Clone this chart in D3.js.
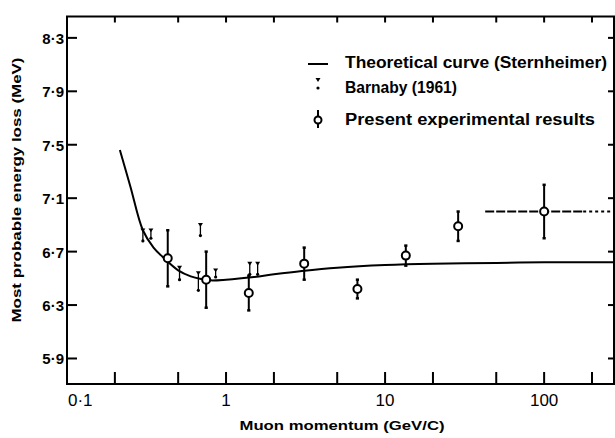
<!DOCTYPE html>
<html>
<head>
<meta charset="utf-8">
<script src="https://cdn.jsdelivr.net/npm/d3@7"></script>
<style>
  body { margin: 0; background: #fff; }
  svg { display: block; }
  text { fill: #000; font-family: "Liberation Sans", Arial, sans-serif; }
</style>
</head>
<body>
<svg id="chart" width="615" height="438"></svg>
<script>
// Axis ticks
const xTicks = [0.2, 0.5, 1, 2, 5, 10, 20, 50, 100, 200];
const xLabelVals = [0.1, 1, 10, 100];
const xLabels = ["0·1", "1", "10", "100"];
const yTicks = [5.9, 6.3, 6.7, 7.1, 7.5, 7.9, 8.3];
const yTickLabels = ["5·9", "6·3", "6·7", "7·1", "7·5", "7·9", "8·3"];

// Theoretical curve (Sternheimer)
const curveP = [0.215, 0.25, 0.3, 0.35, 0.4, 0.5, 0.6, 0.7, 0.8, 1, 1.5, 2, 3, 5, 10, 20, 50, 100, 275];
const curveE = [7.46, 7.19, 6.86, 6.73, 6.66, 6.56, 6.515, 6.495, 6.485, 6.49, 6.51, 6.53, 6.555, 6.58, 6.60, 6.61, 6.615, 6.62, 6.62];

// Barnaby (1961): momentum, upper and lower ends
const barnabyP = [0.30, 0.337, 0.51, 0.67, 0.69, 0.86, 1.41, 1.58];
const barnabyHi = [6.86, 6.86, 6.58, 6.54, 6.90, 6.56, 6.61, 6.61];
const barnabyLo = [6.78, 6.80, 6.49, 6.41, 6.82, 6.51, 6.53, 6.53];

// Present experimental results
const presentP = [0.43, 0.75, 1.39, 3.1, 6.7, 13.5, 28.8, 100];
const presentE = [6.65, 6.49, 6.39, 6.61, 6.42, 6.67, 6.89, 7.0];
const presentErr = [0.21, 0.21, 0.13, 0.12, 0.07, 0.075, 0.11, 0.2];
// horizontal bar of the last point: solid part, then dotted part
const hBarP = [42.6, 176, 275];

const svg = d3.select("#chart");
const mLeft = 67, mRight = 614, mTop = 16.5, mBottom = 384;

const x = d3.scaleLog().domain([0.1, 275]).range([mLeft, mRight]);
const y = d3.scaleLinear().domain([5.709, 8.46]).range([mBottom, mTop]);

// frame
svg.append("rect")
    .attr("x", mLeft).attr("y", mTop)
    .attr("width", mRight - mLeft).attr("height", mBottom - mTop)
    .attr("fill", "none").attr("stroke", "#000").attr("stroke-width", 2);

// inward ticks
const tickRects = svg.append("g").attr("fill", "#000");
xTicks.forEach(d => {
    tickRects.append("rect").attr("x", x(d) - 1).attr("y", mBottom - 12).attr("width", 2).attr("height", 12);
    tickRects.append("rect").attr("x", x(d) - 1).attr("y", mTop).attr("width", 2).attr("height", 6);
});
yTicks.forEach(d => {
    tickRects.append("rect").attr("x", mLeft).attr("y", y(d) - 1).attr("width", 10).attr("height", 2);
    tickRects.append("rect").attr("x", mRight - 6).attr("y", y(d) - 1).attr("width", 6).attr("height", 2);
});

// tick labels
svg.selectAll(".xl").data(xLabelVals).enter().append("text")
    .attr("x", (d, i) => i === 0 ? x(d) + 1 : x(d))
    .attr("y", mBottom + 22)
    .attr("text-anchor", (d, i) => i === 0 ? "start" : "middle")
    .attr("font-size", 17)
    .text((d, i) => xLabels[i]);
svg.selectAll(".yl").data(yTicks).enter().append("text")
    .attr("x", mLeft - 3).attr("y", d => y(d) + 6)
    .attr("text-anchor", "end")
    .attr("font-size", 15).attr("font-weight", "bold")
    .text((d, i) => yTickLabels[i]);

// axis titles
svg.append("text")
    .attr("transform", "translate(21,190) rotate(-90)")
    .attr("text-anchor", "middle")
    .attr("font-size", 13).attr("font-weight", "bold")
    .attr("textLength", 265).attr("lengthAdjust", "spacingAndGlyphs")
    .text("Most probable energy loss (MeV)");

svg.append("text")
    .attr("x", 342).attr("y", 430)
    .attr("text-anchor", "middle")
    .attr("font-size", 13).attr("font-weight", "bold")
    .attr("textLength", 205).attr("lengthAdjust", "spacingAndGlyphs")
    .text("Muon momentum (GeV/C)");

// theoretical curve
const line = d3.line().x(d => x(d[0])).y(d => y(d[1])).curve(d3.curveCatmullRom);
svg.append("path")
    .datum(curveP.map((p, i) => [p, curveE[i]]))
    .attr("d", line)
    .attr("fill", "none").attr("stroke", "#000").attr("stroke-width", 2);

// Barnaby points
const barnaby = svg.append("g");
barnabyP.forEach((p, i) => {
    const px = x(p), yh = y(barnabyHi[i]), yl = y(barnabyLo[i]);
    barnaby.append("line")
        .attr("x1", px).attr("x2", px).attr("y1", yh).attr("y2", yl)
        .attr("stroke", "#000").attr("stroke-width", 1.3);
    barnaby.append("path")
        .attr("d", `M${px - 2.5},${yh - 1.8}L${px + 2.5},${yh - 1.8}L${px},${yh + 2}Z`)
        .attr("fill", "#000");
    barnaby.append("circle").attr("cx", px).attr("cy", yl).attr("r", 1.6).attr("fill", "#000");
});

// horizontal bar of the last point
const hy = y(presentE[presentE.length - 1]);
svg.append("line")
    .attr("x1", x(hBarP[0])).attr("x2", x(hBarP[1])).attr("y1", hy).attr("y2", hy)
    .attr("stroke", "#000").attr("stroke-width", 2).attr("stroke-dasharray", "9,2");
svg.append("line")
    .attr("x1", x(hBarP[1])).attr("x2", x(hBarP[2])).attr("y1", hy).attr("y2", hy)
    .attr("stroke", "#000").attr("stroke-width", 2).attr("stroke-dasharray", "3,3");

// present results
const pres = svg.append("g");
presentP.forEach((p, i) => {
    const px = x(p), y1 = y(presentE[i] + presentErr[i]), y2 = y(presentE[i] - presentErr[i]);
    pres.append("line")
        .attr("x1", px).attr("x2", px).attr("y1", y1).attr("y2", y2)
        .attr("stroke", "#000").attr("stroke-width", 2);
    [y1, y2].forEach(yy => pres.append("line")
        .attr("x1", px - 1.6).attr("x2", px + 1.6).attr("y1", yy).attr("y2", yy)
        .attr("stroke", "#000").attr("stroke-width", 2.5));
    pres.append("circle")
        .attr("cx", px).attr("cy", y(presentE[i])).attr("r", 4)
        .attr("fill", "#fff").attr("stroke", "#000").attr("stroke-width", 2);
});

// legend
const lg = svg.append("g");
const legendText = ["Theoretical curve (Sternheimer)", "Barnaby (1961)", "Present experimental results"];
const legendBase = [68, 93, 125];
const legendLen = [262, 112, 250];
legendText.forEach((t, i) => {
    lg.append("text")
        .attr("x", 345).attr("y", legendBase[i])
        .attr("font-size", 16).attr("font-weight", 600)
        .attr("textLength", legendLen[i]).attr("lengthAdjust", "spacingAndGlyphs")
        .text(t);
});
lg.append("line").attr("x1", 308).attr("x2", 328).attr("y1", 64).attr("y2", 64)
    .attr("stroke", "#000").attr("stroke-width", 2);
lg.append("path").attr("d", "M315.5,78L320.5,78L318,82Z").attr("fill", "#000");
lg.append("circle").attr("cx", 318).attr("cy", 88).attr("r", 1.6).attr("fill", "#000");
lg.append("line").attr("x1", 318).attr("x2", 318).attr("y1", 110).attr("y2", 128)
    .attr("stroke", "#000").attr("stroke-width", 2);
lg.append("circle").attr("cx", 318).attr("cy", 120).attr("r", 3.5)
    .attr("fill", "#fff").attr("stroke", "#000").attr("stroke-width", 2);
</script>
</body>
</html>
